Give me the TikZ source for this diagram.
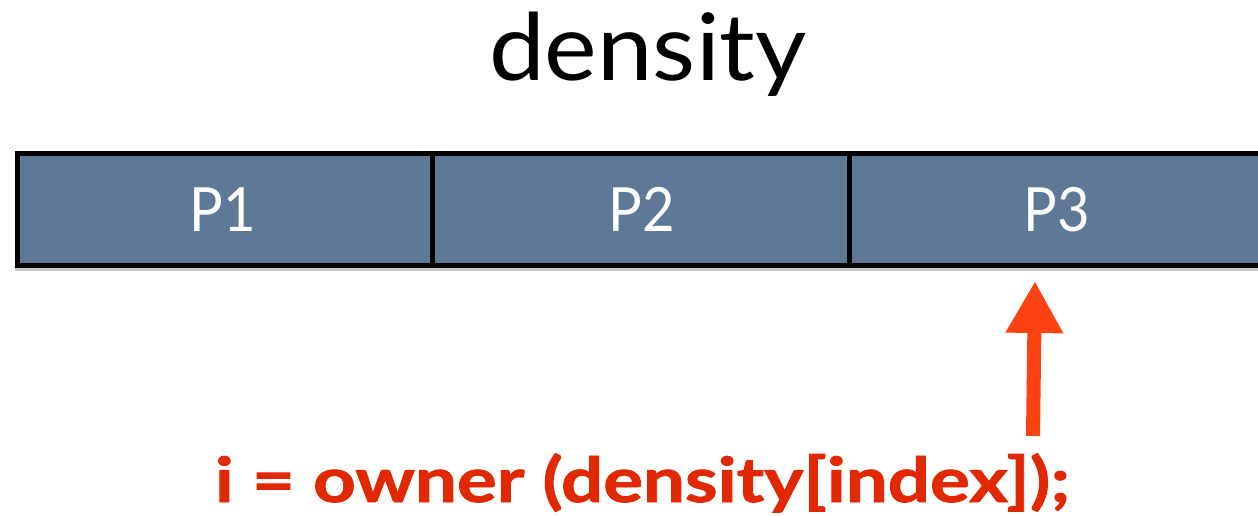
\documentclass[tikz,border=0pt]{standalone}
\usepackage{fontspec}
\setmainfont{Lato}
\newfontfamily\heavyfont{Lato}[BoldFeatures={FakeBold=1.3}]
\usetikzlibrary{arrows.meta}
\definecolor{cellfill}{RGB}{93,121,150}
\definecolor{codered}{RGB}{226,40,0}
\definecolor{arrowred}{RGB}{255,66,18}
\begin{document}
\begin{tikzpicture}[x=1pt,y=-1pt,
  cell/.style={draw=black, line width=5pt, fill=cellfill, rectangle,
               minimum height=112pt, inner sep=0pt},
  celltext/.style={anchor=base, text=white, inner sep=0pt,
               font=\fontsize{61}{66}\selectfont},
  title/.style={anchor=base, inner sep=0pt, font=\fontsize{93}{100}\selectfont},
  code/.style={anchor=base, inner sep=0pt, text=codered,
               font=\heavyfont\bfseries\fontsize{62}{66}\selectfont},
  pointer/.style={draw=arrowred, line width=14pt,
               -{Triangle[width=54pt,length=52pt]}, arrowred}]
  \useasboundingbox (0,0) rectangle (1258,516);
  \clip (0,0) rectangle (1258,516);

  % array title
  \node[title] (ttl) at (648,81) {\scalebox{1.07}[1]{density}};

  % faint shadow under the array
  \fill[black!22] (15,268) rectangle (1270,271);

  % the three partitions of the array
  \node[cell, minimum width=415pt]   (c1) at (225,209.5) {};
  \node[cell, minimum width=417pt]   (c2) at (641,209.5) {};
  \node[cell, minimum width=416.5pt] (c3) at (1057.75,209.5) {};

  \node[celltext] (p1) at (223,231)  {\scalebox{0.92}[1]{P1}};
  \node[celltext] (p2) at (642,231)  {\scalebox{0.92}[1]{P2}};
  \node[celltext] (p3) at (1057,231) {\scalebox{0.92}[1]{P3}};

  % the owner lookup and its pointer into P3
  \node[code] (lookup) at (642.5,502) {\scalebox{1.2}[1]{i = owner (density[index]);}};
  \coordinate (tail) at (1033,436);
  \coordinate (tip)  at (1035,281);
  \draw[pointer] (tail) -- (tip);
\end{tikzpicture}
\end{document}
